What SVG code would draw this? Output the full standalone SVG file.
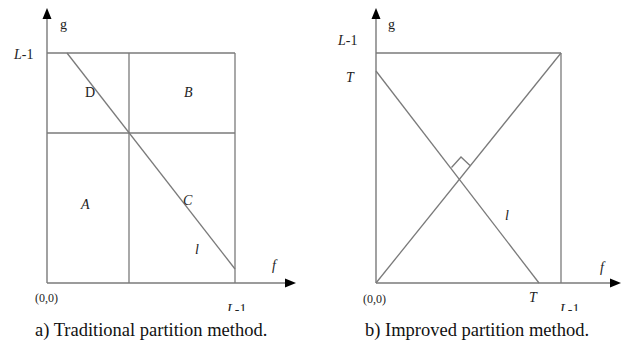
<svg xmlns="http://www.w3.org/2000/svg" width="628" height="347" viewBox="0 0 628 347" font-family="'Liberation Serif', 'DejaVu Serif', 'Times New Roman', serif">
<defs>
<style>
.ln{stroke:#7a7a7a;stroke-width:1.3;fill:none}
.ax{stroke:#7a7a7a;stroke-width:1.4;fill:none}
.ah{fill:#000}
.t{font-family:'Liberation Serif','DejaVu Serif',serif;fill:#222}
.lb{font-size:14px}
.it{font-style:italic}
.cap{font-size:18.5px;fill:#111}
.org{font-size:12px}
</style>
<clipPath id="clipA"><rect x="0" y="0" width="628" height="311"/></clipPath>
</defs>
<g id="panel-a">
<g id="axes-a">
<line class="ax" x1="47" y1="283" x2="47" y2="18"/>
<polygon class="ah" points="47,8 42.5,19 51.5,19"/>
<line class="ax" x1="47" y1="283" x2="286" y2="283"/>
<polygon class="ah" points="296,283 285,278.5 285,287.5"/>
</g>
<g id="grid-a">
<line class="ln" x1="47" y1="53" x2="235" y2="53"/>
<line class="ln" x1="47" y1="133" x2="235" y2="133"/>
<line class="ln" x1="129" y1="53" x2="129" y2="283"/>
<line class="ln" x1="235" y1="53" x2="235" y2="283"/>
</g>
<g id="connectors-a">
<line class="ln" x1="67" y1="53" x2="235" y2="269"/>
</g>
<g id="labels-a">
<text class="t lb" x="60" y="29">g</text>
<text class="t lb" x="14" y="59"><tspan class="it">L</tspan>-1</text>
<text class="t lb" x="85" y="97">D</text>
<text class="t lb it" x="184" y="97">B</text>
<text class="t lb it" x="81" y="209">A</text>
<text class="t lb it" x="183" y="205">C</text>
<text class="t lb it" x="195" y="254">l</text>
<text class="t lb it" x="272" y="270">f</text>
<text class="t org" x="35" y="302">(0,0)</text>
<text class="t lb" x="227" y="313.5" clip-path="url(#clipA)"><tspan class="it">L</tspan>-1</text>
<text class="t cap" x="35" y="336">a) Traditional partition method.</text>
</g>
</g>
<g id="panel-b">
<g id="axes-b">
<line class="ax" x1="376" y1="283" x2="376" y2="18"/>
<polygon class="ah" points="376,8 371.5,19 380.5,19"/>
<line class="ax" x1="376" y1="283" x2="611" y2="283"/>
<polygon class="ah" points="621,283 610,278.5 610,287.5"/>
</g>
<g id="grid-b">
<line class="ln" x1="376" y1="53" x2="561" y2="53"/>
<line class="ln" x1="561" y1="53" x2="561" y2="283"/>
</g>
<g id="connectors-b">
<line class="ln" x1="376" y1="71" x2="539" y2="283"/>
<line class="ln" x1="376" y1="283" x2="561" y2="53"/>
<polyline class="ln" points="451.5,167.5 461,157 470,165.5"/>
</g>
<g id="labels-b">
<text class="t lb" x="388" y="29">g</text>
<text class="t lb" x="338" y="45"><tspan class="it">L</tspan>-1</text>
<text class="t lb it" x="346" y="82">T</text>
<text class="t lb it" x="505" y="220">l</text>
<text class="t lb it" x="600" y="272">f</text>
<text class="t org" x="363" y="303">(0,0)</text>
<text class="t lb it" x="529" y="302">T</text>
<text class="t lb" x="560" y="313.5" clip-path="url(#clipA)"><tspan class="it">L</tspan>-1</text>
<text class="t cap" x="365" y="336">b) Improved partition method.</text>
</g>
</g>
</svg>
